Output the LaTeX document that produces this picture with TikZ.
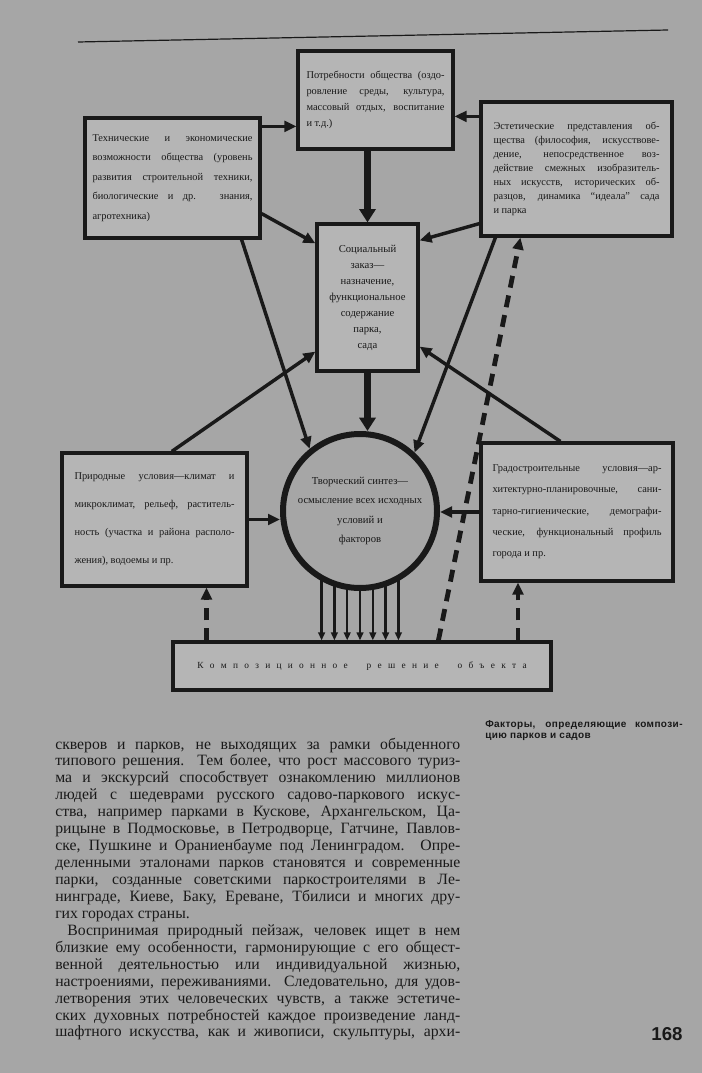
\documentclass[tikz,border=0pt]{standalone}
\usepackage{fontspec}
\setmainfont{Liberation Serif}
\setsansfont{Liberation Sans}
\usetikzlibrary{arrows.meta, calc}

\definecolor{page}{gray}{0.65}
\definecolor{cardgray}{gray}{0.71}
\definecolor{ink}{gray}{0.1}
\newcommand\jl[1]{\makebox[\hsize][s]{\spaceskip=0pt\xspaceskip=0pt #1}}
\newcommand\bodyline[1]{\makebox[303.75pt][s]{#1}}

\begin{document}
\begin{tikzpicture}[
  x=0.75pt, y=-0.75pt,
  card/.style={rectangle, draw=ink, line width=2.4pt, fill=cardgray, inner sep=0pt, align=justify, text=ink},
  link/.style={draw=ink, line width=2.6pt, -{Triangle[length=9pt,width=8pt]}},
  heavy/.style={draw=ink, line width=5pt, -{Triangle[length=10pt,width=12pt]}},
  dashlink/.style={link, line width=3.6pt, dash pattern=on 9pt off 6pt},
  feed/.style={draw=ink, line width=1.8pt, -{Triangle[length=6pt,width=5pt]}},
  bodyfont/.style={font=\fontsize{11.8}{12.7}\selectfont, text=ink, inner sep=0pt}
]
\useasboundingbox (0,0) rectangle (702,1073);
\fill[page] (0,0) rectangle (702,1073);
\draw[ink, line width=0.9pt] (78,42) -- (668,30);

% Factor boxes
\node[card, minimum width=116.25pt, minimum height=73.5pt, text width=103.5pt,
  font=\fontsize{7.8}{12}\selectfont] (needs) at (375.5,100)
  {\jl{Потребности общества (оздо-}\\ \jl{ровление среды, культура,}\\ \jl{массовый отдых, воспитание}\\ и т.д.)};
\node[card, minimum width=131.25pt, minimum height=90pt, text width=120pt,
  font=\fontsize{7.8}{14.6}\selectfont] (tech) at (172.5,178)
  {\jl{Технические и экономические}\\ \jl{возможности общества (уровень}\\ \jl{развития строительной техники,}\\ \jl{биологические и др. знания,}\\ агротехника)};
\node[card, minimum width=143.25pt, minimum height=100.5pt, text width=124.5pt,
  font=\fontsize{7.8}{10.5}\selectfont] (aesth) at (576.5,169)
  {\jl{Эстетические представления об-}\\ \jl{щества (философия, искусствове-}\\ \jl{дение, непосредственное воз-}\\ \jl{действие смежных изобразитель-}\\ \jl{ных искусств, исторических об-}\\ \jl{разцов, динамика ``идеала'' сада}\\ и парка};
\node[card, minimum width=75.75pt, minimum height=110.25pt, text width=70pt, align=center,
  font=\fontsize{8}{12}\selectfont] (order) at (367.5,297.5)
  {Социальный\\ заказ—\\ назначение,\\ функциональное\\ содержание\\ парка,\\ сада};
\node[circle, draw=ink, line width=4.5pt, minimum size=115.5pt, inner sep=0pt, align=center, text=ink,
  font=\fontsize{8}{14.3}\selectfont] (synth) at (360,511)
  {Творческий синтез—\\ осмысление всех исходных\\ условий и\\ факторов};
\node[card, minimum width=138.75pt, minimum height=99.75pt, text width=120pt,
  font=\fontsize{7.8}{21}\selectfont] (nature) at (154.5,519.5)
  {\jl{Природные условия—климат и}\\ \jl{микроклимат, рельеф, раститель-}\\ \jl{ность (участка и района располо-}\\ жения), водоемы и пр.};
\node[card, minimum width=144pt, minimum height=103.5pt, text width=126.75pt,
  font=\fontsize{7.8}{16}\selectfont] (urban) at (577,512)
  {\jl{Градостроительные условия—ар-}\\ \jl{хитектурно-планировочные, сани-}\\ \jl{тарно-гигиенические, демографи-}\\ \jl{ческие, функциональный профиль}\\ города и пр.};
\node[card, minimum width=283.5pt, minimum height=36pt, align=center,
  font=\fontsize{7}{8}\selectfont] (solution) at (362,666)
  {\makebox[247pt][s]{\spaceskip=0pt К о м п о з и ц и о н н о е \ \ р е ш е н и е \ \ о б ъ е к т а}};

% Arrows into needs and order
\coordinate (t1) at ([yshift=-7.5pt]tech.north east);
\draw[link] (t1) -- (t1 -| needs.west);
\coordinate (a1) at ([yshift=-12pt]aesth.north west);
\draw[link] (a1) -- (a1 -| needs.east);
\draw[heavy] (needs.south -| order.north) -- (order.north);
\draw[link] ([yshift=19.5pt]tech.south east) -- ([yshift=-15.75pt]order.north west);
\draw[link] ([yshift=10.5pt]aesth.south west) -- ([yshift=-13.5pt]order.north east);
\draw[link] ([xshift=13pt]nature.north) -- ([yshift=15.75pt]order.south west);
\draw[link] ([xshift=60.75pt]urban.north west) -- ([yshift=19.5pt]order.south east);

% Arrows into the synthesis
\draw[link] ([xshift=-15pt]tech.south east) -- (synth.129);
\draw[link] ([xshift=12pt]aesth.south west) -- (synth.47);
\draw[heavy] (order.south) -- (order.south |- synth.north);
\draw[link] (nature.east) -- (nature.east -| synth.west);
\draw[link] (urban.west) -- (urban.west -| synth.east);

% Feedback from the solution
\coordinate (d1) at ([xshift=200.25pt]solution.north west);
\draw[dashlink] (d1) -- ([xshift=30.75pt]aesth.south west);
\coordinate (d2) at ([xshift=39pt]nature.south);
\draw[dashlink] (d2 |- solution.north) -- (d2);
\coordinate (d3) at ([xshift=-44.25pt]urban.south);
\draw[dashlink] (d3 |- solution.north) -- (d3);

% Synthesis down to the solution
\foreach \k [count=\n] in {-3,...,3} {
  \path (synth.center) ++({\k*12.8}, {sqrt(77*77-(\k*12.8)*(\k*12.8))}) coordinate (f\n);
  \draw[feed] (f\n) -- (f\n |- solution.north);
}

% Caption and page
\node[anchor=north west, text width=148pt, inner sep=0pt, align=justify, text=ink,
  font=\sffamily\bfseries\addfontfeature{LetterSpace=4}\fontsize{7.5}{8.5}\selectfont] (caption) at (485,720)
  {\jl{Факторы, определяющие компози-}\\ цию парков и садов};
\node[text=ink, font=\sffamily\bfseries\fontsize{14}{14}\selectfont] (folio) at (667,1034) {168};

\foreach \t [count=\i] in {
  {\bodyline{скверов и парков, не выходящих за рамки обыденного}},
  {\bodyline{типового решения. Тем более, что рост массового туриз-}},
  {\bodyline{ма и экскурсий способствует ознакомлению миллионов}},
  {\bodyline{людей с шедеврами русского садово-паркового искус-}},
  {\bodyline{ства, например парками в Кускове, Архангельском, Ца-}},
  {\bodyline{рицыне в Подмосковье, в Петродворце, Гатчине, Павлов-}},
  {\bodyline{ске, Пушкине и Ораниенбауме под Ленинградом. Опре-}},
  {\bodyline{деленными эталонами парков становятся и современные}},
  {\bodyline{парки, созданные советскими паркостроителями в Ле-}},
  {\bodyline{нинграде, Киеве, Баку, Ереване, Тбилиси и многих дру-}},
  {гих городах страны.},
  {\hspace*{9pt}\makebox[294.75pt][s]{Воспринимая природный пейзаж, человек ищет в нем}},
  {\bodyline{близкие ему особенности, гармонирующие с его общест-}},
  {\bodyline{венной деятельностью или индивидуальной жизнью,}},
  {\bodyline{настроениями, переживаниями. Следовательно, для удов-}},
  {\bodyline{летворения этих человеческих чувств, а также эстетиче-}},
  {\bodyline{ских духовных потребностей каждое произведение ланд-}},
  {\bodyline{шафтного искусства, как и живописи, скульптуры, архи-}}}
  \node[bodyfont, anchor=base west] (line\i) at (55, {749+(\i-1)*16.94}) {\t};

\end{tikzpicture}
\end{document}
